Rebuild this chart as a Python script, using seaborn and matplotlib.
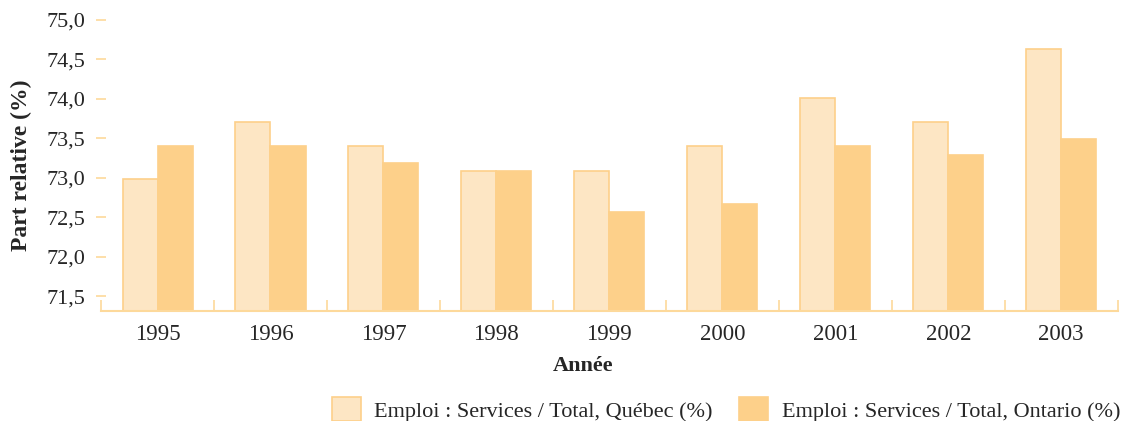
import seaborn as sns
import pandas as pd
import matplotlib
matplotlib.use('AGG')
from matplotlib import pyplot as plt
from matplotlib.ticker import FuncFormatter, FixedLocator

annees = ['1995', '1996', '1997', '1998', '1999', '2000', '2001', '2002', '2003']
quebec = [72.98, 73.70, 73.40, 73.09, 73.09, 73.40, 74.01, 73.70, 74.63]
ontario = [73.40, 73.40, 73.19, 73.09, 72.57, 72.67, 73.40, 73.29, 73.49]
series = ['Emploi : Services / Total, Québec (%)', 'Emploi : Services / Total, Ontario (%)']

df = pd.DataFrame({
    'Année': annees * 2,
    'valeur': quebec + ontario,
    'serie': [series[0]] * len(annees) + [series[1]] * len(annees),
})

sns.set_style('white')
plt.rcParams['font.family'] = ['Liberation Serif', 'DejaVu Serif']

axe_couleur = '#FDD99B'
fig = plt.figure(figsize=(11.29, 4.21), dpi=100)
ax = fig.add_axes([0.0895, 0.261, 0.9005, 0.692])

sns.barplot(data=df, x='Année', y='valeur', hue='serie', hue_order=series,
            palette=['#FDE6C4', '#FDD08A'], width=0.62, saturation=1,
            edgecolor='#FDD08A', linewidth=1.2, ax=ax)

ax.set_ylim(71.31, 75.0)
ax.set_xlim(-0.5, len(annees) - 0.5)
ax.set_yticks([71.5 + 0.5 * i for i in range(8)])
ax.yaxis.set_major_formatter(FuncFormatter(lambda v, p: f'{v:.1f}'.replace('.', ',')))
ax.xaxis.set_minor_locator(FixedLocator([i - 0.5 for i in range(len(annees) + 1)]))

for s in ['top', 'right', 'left']:
    ax.spines[s].set_visible(False)
ax.spines['bottom'].set_color(axe_couleur)
ax.spines['bottom'].set_linewidth(1.5)

ax.tick_params(axis='y', which='major', direction='inout', length=7, width=1.2,
               color=axe_couleur, labelsize=16, pad=8, left=True)
ax.tick_params(axis='x', which='major', length=0, labelsize=16.5, pad=9)
ax.tick_params(axis='x', which='minor', direction='in', length=8, width=1.2,
               color=axe_couleur, bottom=True)

ax.set_ylabel('Part relative (%)', fontsize=17, fontweight='bold', labelpad=10)
ax.set_xlabel('Année', fontsize=16, fontweight='bold')
ax.xaxis.set_label_coords(0.474, -0.155)

leg = ax.legend(loc='lower right', bbox_to_anchor=(1.011, -0.41), ncol=2, frameon=False,
                fontsize=16, handlelength=1.3, handleheight=1.3, columnspacing=1.2,
                handletextpad=0.6, borderaxespad=0)

fig.savefig('out.png', dpi=100)
